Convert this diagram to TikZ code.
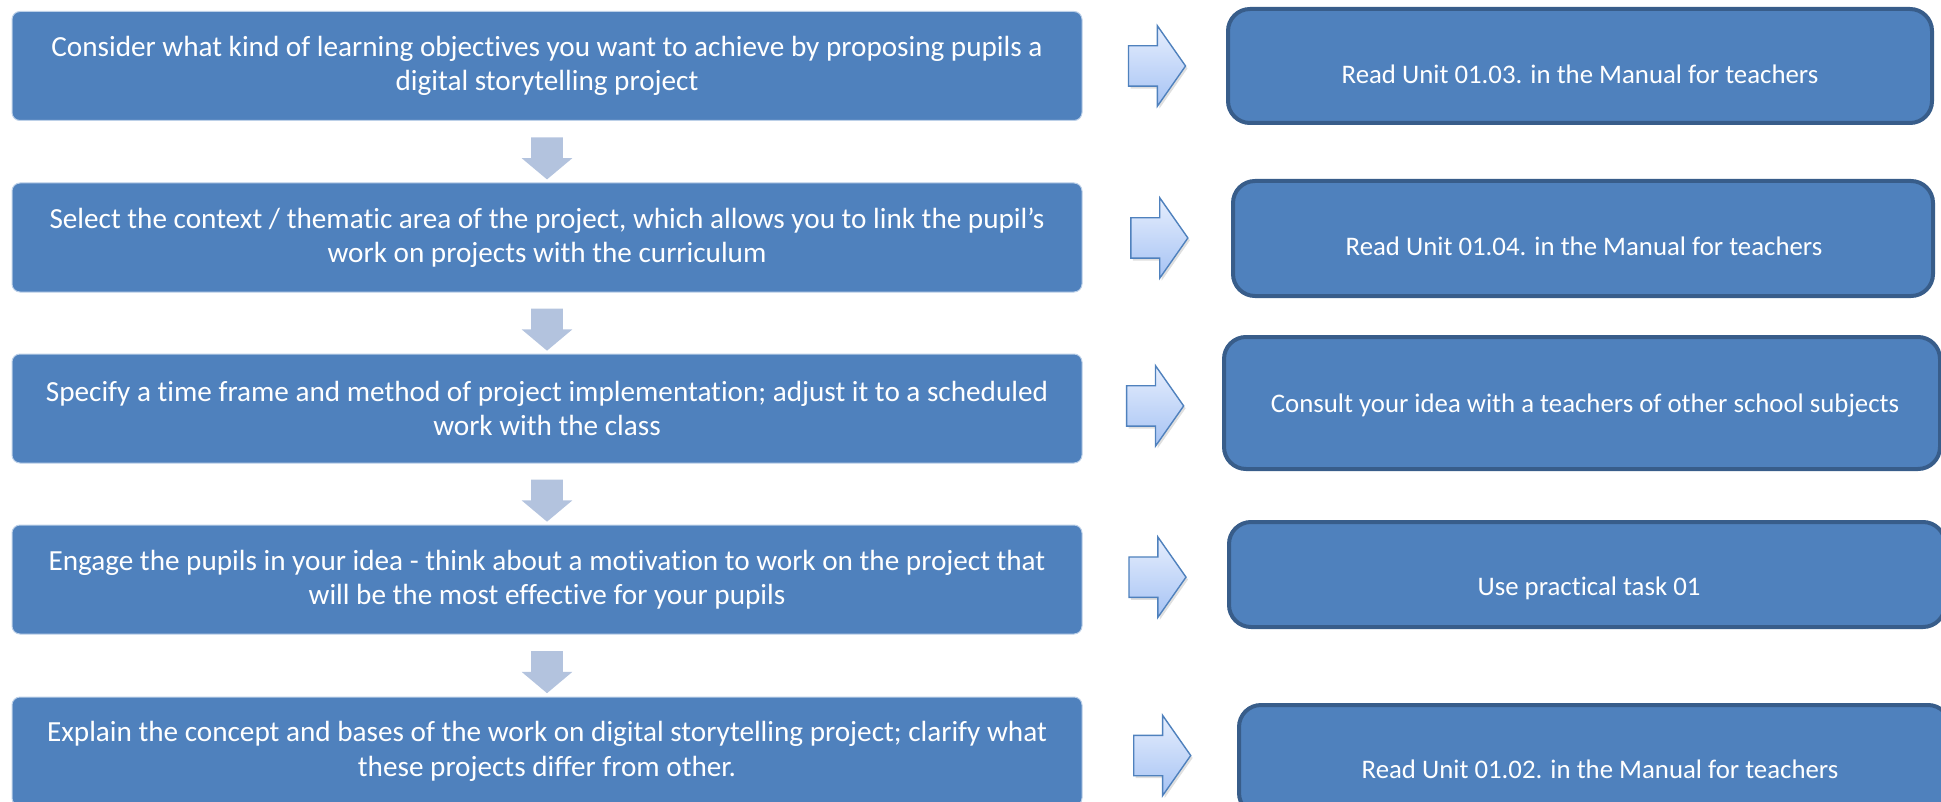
\documentclass[tikz,border=0pt]{standalone}
\usepackage{fontspec}
\setmainfont{Carlito}[Ligatures=NoCommon]
\usetikzlibrary{positioning,calc,shadows}
\usetikzlibrary{shapes.arrows}
\definecolor{boxBlue}{HTML}{4F81BD}
\definecolor{boxEdge}{HTML}{385D8A}
\definecolor{boxLine}{HTML}{BCD0E8}
\definecolor{downFill}{HTML}{B3C3DE}
\definecolor{arrTop}{HTML}{E6EEFD}
\definecolor{arrBot}{HTML}{A6C3F4}
\tikzstyle{sBox}=[rectangle,rounded corners=4pt,fill=boxBlue,draw=boxLine,line width=0.5pt,minimum width=535pt,minimum height=54.5pt,inner sep=0pt,text=white,font=\fontsize{14.6}{17.2}\selectfont,align=center]
\tikzstyle{rBox}=[rectangle,rounded corners=11pt,fill=boxBlue,draw=boxEdge,line width=2pt,inner sep=0pt]
\tikzstyle{rText}=[text=white,font=\fontsize{13.4}{16}\selectfont,inner sep=0pt,text height=9pt,text depth=2.5pt]
\tikzstyle{dArrow}=[single arrow,shape border rotate=270,fill=downFill,inner xsep=7.75pt,inner ysep=0pt,text height=0pt,text depth=0pt,minimum height=21pt,single arrow head extend=4.75pt,single arrow tip angle=100]
\tikzstyle{rArrow}=[single arrow,draw=boxBlue,line width=0.7pt,top color=arrTop,bottom color=arrBot,inner xsep=0pt,inner ysep=9.75pt,text height=0pt,text depth=0pt,minimum height=28.5pt,single arrow head extend=10pt,single arrow tip angle=110,drop shadow={shadow xshift=1pt,shadow yshift=-1.2pt,opacity=0.25}]

\begin{document}
\begin{tikzpicture}[x=0.5pt,y=-0.5pt]
                \useasboundingbox (0,0) rectangle (1941,802);
                % steps
                \draw (547,66) node[sBox] (s1) {Consider what kind of learning objectives you want to achieve by proposing pupils a\\digital storytelling project};
                \draw (547,237.5) node[sBox] (s2) {Select the context / thematic area of the project, which allows you to link the pupil’s\\work on projects with the curriculum};
                \draw (547,408.5) node[sBox] (s3) {Specify a time frame and method of project implementation; adjust it to a scheduled\\work with the class};
                \draw (547,579.5) node[sBox] (s4) {Engage the pupils in your idea - think about a motivation to work on the project that\\will be the most effective for your pupils};
                \draw (547,751.5) node[sBox] (s5) {Explain the concept and bases of the work on digital storytelling project; clarify what\\these projects differ from other.};
                % hints
                \draw (1580,66) node[rBox,minimum width=352pt,minimum height=57pt] (r1) {};
                \draw (1583,238.5) node[rBox,minimum width=350pt,minimum height=57.5pt] (r2) {};
                \draw (1582,403) node[rBox,minimum width=358pt,minimum height=66pt] (r3) {};
                \draw (1587,574.5) node[rBox,minimum width=358pt,minimum height=52.5pt] (r4) {};
                \draw (1594.5,760) node[rBox,minimum width=355.5pt,minimum height=55pt] (r5) {};
                \draw (1580,77) node[rText] (t1) {Read Unit 01.03. in the Manual for teachers};
                \draw (1584,249) node[rText] (t2) {Read Unit 01.04. in the Manual for teachers};
                \draw (1585,406) node[rText] (t3) {Consult your idea with a teachers of other school subjects};
                \draw (1589,589) node[rText] (t4) {Use practical task 01};
                \draw (1600,772) node[rText] (t5) {Read Unit 01.02. in the Manual for teachers};
                % arrows
                \draw ($(s1.south)!0.5!(s2.north)$) node[dArrow] (d1) {};
                \draw ($(s2.south)!0.5!(s3.north)$) node[dArrow] (d2) {};
                \draw ($(s3.south)!0.5!(s4.north)$) node[dArrow] (d3) {};
                \draw ($(s4.south)!0.5!(s5.north)$) node[dArrow] (d4) {};
                \draw ($(s1.east)!0.47!(r1.west)$) node[rArrow] (a1) {};
                \draw ($(s2.east)!0.47!(r2.west)$) node[rArrow] (a2) {};
                \draw ($(s3.east)!0.47!(r3.west)$) node[rArrow] (a3) {};
                \draw ($(s4.east)!0.47!(r4.west)$) node[rArrow] (a4) {};
                \draw ($(s5.east)!0.47!(r5.west)$) node[rArrow] (a5) {};
\end{tikzpicture}
\end{document}
